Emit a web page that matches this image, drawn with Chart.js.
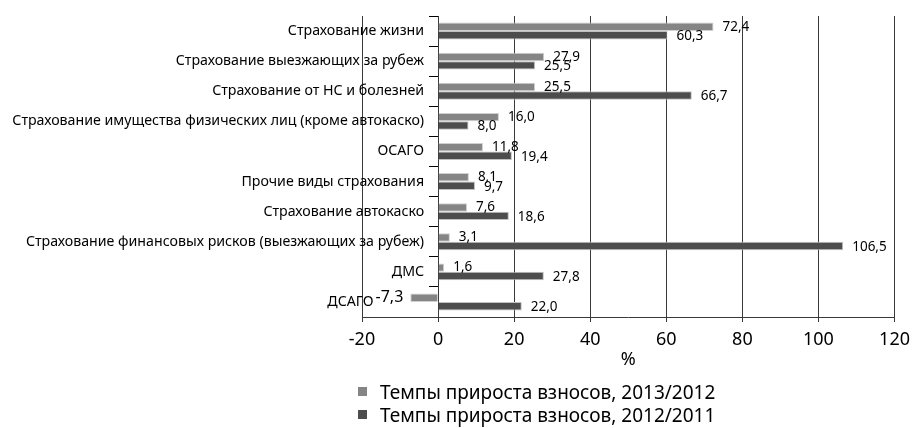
<!DOCTYPE html>
<html>
<head>
<meta charset="utf-8">
<script src="https://cdn.jsdelivr.net/npm/chart.js@4"></script>
<style>
  html, body { margin: 0; padding: 0; background: #ffffff; }
  #wrap { position: relative; width: 917px; height: 428px; overflow: hidden; }
  #legend { position: absolute; left: 358px; top: 380px; font-family: "Noto Sans", sans-serif; font-size: 19px; color: #000; }
  #legend .row { display: flex; align-items: center; height: 23px; white-space: nowrap; }
  #legend .sw { width: 9px; height: 9px; margin-right: 13px; }
</style>
</head>
<body>
<div id="wrap">
  <canvas id="c" width="917" height="428"></canvas>
  <div id="legend"></div>
</div>
<script>
const categories = [
  "Страхование жизни",
  "Страхование выезжающих за рубеж",
  "Страхование от НС и болезней",
  "Страхование имущества физических лиц (кроме автокаско)",
  "ОСАГО",
  "Прочие виды страхования",
  "Страхование автокаско",
  "Страхование финансовых рисков (выезжающих за рубеж)",
  "ДМС",
  "ДСАГО"
];
const seriesNames = ["Темпы прироста взносов, 2013/2012", "Темпы прироста взносов, 2012/2011"];
const growth2013 = [72.4, 27.9, 25.5, 16.0, 11.8, 8.1, 7.6, 3.1, 1.6, -7.3];
const growth2012 = [60.3, 25.5, 66.7, 8.0, 19.4, 9.7, 18.6, 106.5, 27.8, 22.0];
const xTicks = [-20, 0, 20, 40, 60, 80, 100, 120];
const axisTitle = "%";

const FONT = '"Noto Sans", sans-serif';
const colors = ["#858585", "#4d4d4d"];
const VAL_FONT = '13.5px ' + FONT;
const NEG_FONT = '16px ' + FONT;
const fmt = v => v.toFixed(1).replace('.', ',');

const valueLabels = {
  id: 'valueLabels',
  afterDatasetsDraw(chart) {
    const ctx = chart.ctx;
    chart.data.datasets.forEach((ds, di) => {
      const meta = chart.getDatasetMeta(di);
      meta.data.forEach((bar, i) => {
        const v = ds.data[i];
        const txt = fmt(v);
        ctx.save();
        ctx.fillStyle = '#000';
        ctx.textBaseline = 'middle';
        if (v < 0) {
          ctx.font = NEG_FONT;
          ctx.textAlign = 'right';
          ctx.fillText(txt, bar.x - 7, bar.y);
        } else {
          ctx.font = VAL_FONT;
          ctx.textAlign = 'left';
          ctx.fillText(txt, bar.x + 9, bar.y + (di === 0 ? 0 : 1));
        }
        ctx.restore();
      });
    });
  }
};

// move category labels to the left of the tick marks of the axis placed at x = 0,
// and further left when a negative value label sits in front of them
const yLabelShift = {
  id: 'yLabelShift',
  beforeDraw(chart) {
    const s = chart.scales.y;
    const items = s.getLabelItems();
    if (!items || items._shifted) return;
    const d = s.options.grid.tickLength + s.options.ticks.padding;
    const ctx = chart.ctx;
    items.forEach((it, idx) => {
      let x = it.options.translation[0] - d;
      chart.data.datasets.forEach((ds, di) => {
        const v = ds.data[idx];
        if (v < 0) {
          const bar = chart.getDatasetMeta(di).data[idx];
          ctx.save();
          ctx.font = NEG_FONT;
          const w = ctx.measureText(fmt(v)).width;
          ctx.restore();
          x = Math.min(x, bar.x - 7 - w - 2);
        }
      });
      it.options.translation[0] = x;
    });
    items._shifted = true;
  }
};

const chart = new Chart(document.getElementById('c'), {
  type: 'bar',
  data: {
    labels: categories,
    datasets: [
      { label: seriesNames[0], data: growth2013, backgroundColor: colors[0], borderColor: '#d0d0d0', borderWidth: 1 },
      { label: seriesNames[1], data: growth2012, backgroundColor: colors[1], borderColor: '#c0c0c0', borderWidth: 1 }
    ]
  },
  options: {
    indexAxis: 'y',
    responsive: false,
    animation: false,
    events: [],
    categoryPercentage: 0.56,
    barPercentage: 1.0,
    layout: { padding: { left: 362, right: 20, top: 16, bottom: 0 } },
    plugins: { legend: { display: false }, tooltip: { enabled: false } },
    scales: {
      x: {
        type: 'linear',
        min: xTicks[0],
        max: xTicks[xTicks.length - 1],
        afterBuildTicks: s => { s.ticks = xTicks.map(v => ({ value: v })); },
        afterFit: s => { s.height = 111; },
        grid: { color: '#3a3a3a', lineWidth: 1, tickLength: 5, drawTicks: true },
        border: { color: '#3a3a3a', width: 1 },
        ticks: { color: '#000', font: { family: FONT, size: 18 }, padding: 7 },
        title: { display: true, text: axisTitle, color: '#000', font: { family: FONT, size: 18 }, padding: { top: 0, bottom: 57 } }
      },
      y: {
        position: { x: 0 },
        grid: { drawOnChartArea: false, drawTicks: true, tickLength: 9, color: '#000', offset: true },
        border: { color: '#3a3a3a', width: 1 },
        ticks: { color: '#000', font: { family: FONT, size: 14.2 }, padding: 5, autoSkip: false }
      }
    }
  },
  plugins: [yLabelShift, valueLabels]
});

const legend = document.getElementById('legend');
chart.data.datasets.forEach(ds => {
  const row = document.createElement('div');
  row.className = 'row';
  const sw = document.createElement('span');
  sw.className = 'sw';
  sw.style.background = ds.backgroundColor;
  const t = document.createElement('span');
  t.textContent = ds.label;
  row.appendChild(sw); row.appendChild(t);
  legend.appendChild(row);
});
</script>
</body>
</html>
